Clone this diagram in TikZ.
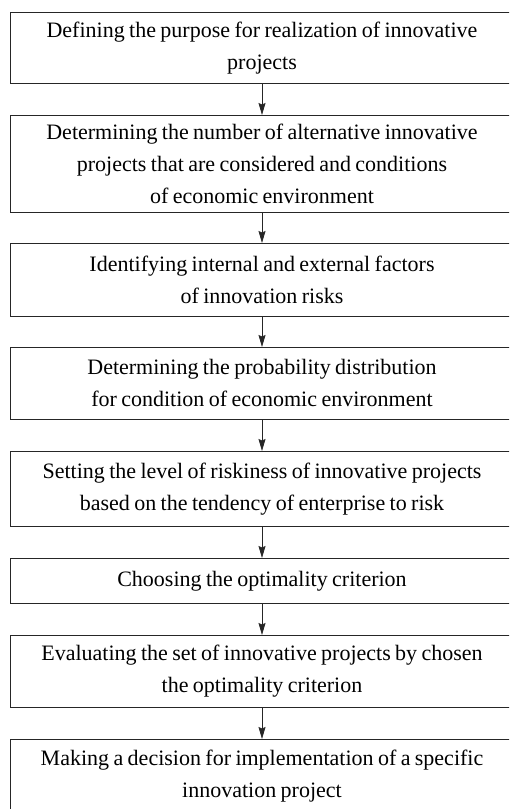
\documentclass[tikz,border=0pt]{standalone}
\usepackage{fontspec}
\setmainfont{Liberation Serif}
\usetikzlibrary{arrows.meta}
\newcommand\bxfont{\fontsize{22}{32}\selectfont}
\newcommand\bxspace{\spaceskip=4.4pt plus 0pt minus 0pt\relax}
\begin{document}
\begin{tikzpicture}[x=1pt,y=1pt,
  stepbox/.style={draw=black!85, line width=0.8pt, rectangle, minimum width=504pt,
    text width=495pt, align=center, anchor=north, inner sep=0pt,
    font=\bxfont, execute at begin node=\bxspace},
  flow/.style={-{Stealth[length=12pt,width=7pt,inset=1.5pt]}, line width=0.8pt, draw=black!85}]
\useasboundingbox (0,0) rectangle (509,-809);
\clip (0,0) rectangle (509,-809);
\node[stepbox, minimum height=71pt] (b1) at (262,-12) {Defining the purpose for realization of innovative\\projects};
\node[stepbox, minimum height=97pt] (b2) at (262,-115) {Determining the number of alternative innovative\\projects that are considered and conditions\\of economic environment};
\node[stepbox, minimum height=73pt] (b3) at (262,-243) {Identifying internal and external factors\\of innovation risks};
\node[stepbox, minimum height=72pt] (b4) at (262,-347) {Determining the probability distribution\\for condition of economic environment};
\node[stepbox, minimum height=75pt] (b5) at (262,-451) {Setting the level of riskiness of innovative projects\\based on the tendency of enterprise to risk};
\node[stepbox, minimum height=45pt] (b6) at (262,-558) {Choosing the optimality criterion};
\node[stepbox, minimum height=72pt] (b7) at (262,-635) {Evaluating the set of innovative projects by chosen\\the optimality criterion};
\node[stepbox, minimum height=74pt] (b8) at (262,-739) {Making a decision for implementation of a specific\\innovation project};
\foreach \a/\b in {b1/b2,b2/b3,b3/b4,b4/b5,b5/b6,b6/b7,b7/b8}
  \draw[flow] (\a.south) -- (\b.north);
\end{tikzpicture}
\end{document}
